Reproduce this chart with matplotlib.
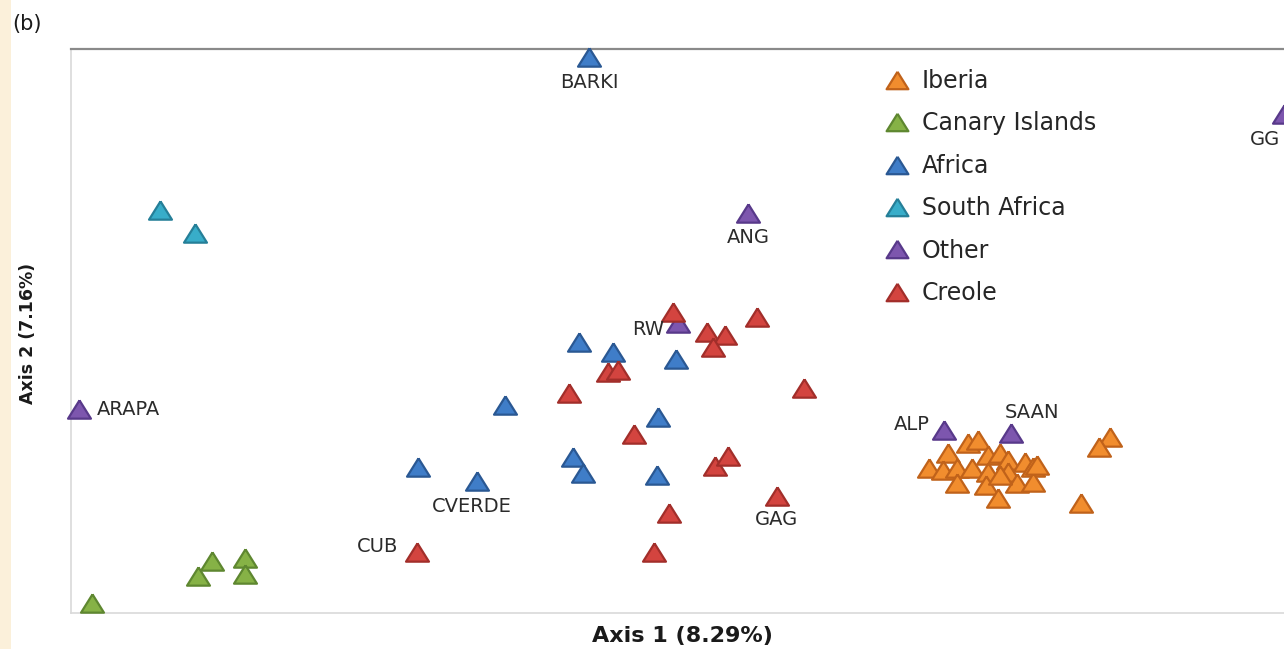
import matplotlib
matplotlib.use("Agg")
import matplotlib.pyplot as plt
from matplotlib.patches import Rectangle

# PCoA coordinates (Axis 1, Axis 2), plotted on a 0-100 scale
iberia_x = [70.73, 72.30, 71.89, 73.04, 73.04, 74.28, 73.95, 74.77, 75.60, 75.60,
            75.43, 76.42, 76.59, 77.25, 77.25, 77.99, 78.65, 79.31, 79.31, 79.64,
            85.66, 84.75, 83.26, 76.59]
iberia_y = [25.71, 28.37, 25.35, 25.71, 23.05, 25.71, 30.14, 30.67, 28.01, 25.00,
            22.70, 20.39, 28.37, 27.13, 25.00, 23.05, 26.77, 25.89, 23.23, 26.24,
            31.21, 29.43, 19.50, 24.47]

canary_x = [1.73, 11.62, 10.47, 14.34, 14.34]
canary_y = [1.77, 9.22, 6.56, 9.75, 6.91]

africa_names = ["BARKI", "", "", "", "", "", "", "CVERDE", "", "", ""]
africa_x = [42.70, 41.88, 44.68, 49.88, 35.78, 48.39, 28.61, 33.47, 41.38, 42.21, 48.31]
africa_y = [98.58, 48.05, 46.28, 45.04, 36.88, 34.75, 25.89, 23.40, 27.66, 24.82, 24.47]

safrica_x = [7.34, 10.22]
safrica_y = [71.45, 67.38]

other_names = ["ARAPA", "ANG", "RW", "ALP", "SAAN", "GG"]
other_x = [0.66, 55.81, 50.04, 71.97, 77.49, 100.0]
other_y = [36.17, 70.92, 51.42, 32.45, 31.91, 88.50]

creole_names = ["", "", "", "", "", "", "", "", "", "", "", "", "GAG", "", "", "CUB"]
creole_x = [49.63, 52.43, 53.92, 52.93, 56.55, 44.27, 45.09, 41.06, 60.43, 46.41,
            53.09, 54.16, 58.20, 49.30, 48.06, 28.52]
creole_y = [53.37, 49.82, 49.29, 47.16, 52.48, 42.73, 43.09, 39.01, 39.89, 31.74,
            26.06, 27.84, 20.74, 17.73, 10.82, 10.82]

groups = ["Iberia", "Canary Islands", "Africa", "South Africa", "Other", "Creole"]
fills = ["#F18D2E", "#86B246", "#3F7DC8", "#38ADC9", "#7D56AE", "#D3443F"]
edges = ["#C0621A", "#5E8730", "#2A5893", "#257F98", "#58398A", "#A22E2A"]

# label placement: (dx, dy) in points, horizontal alignment
label_style = {
    "BARKI": (0, -18, "center"),
    "ANG": (0, -17.3, "center"),
    "RW": (-10, -5, "right"),
    "ARAPA": (13, -0.7, "left"),
    "ALP": (-10, 4.3, "right"),
    "SAAN": (15, 15, "center"),
    "CVERDE": (-3.6, -18.7, "center"),
    "CUB": (-13.7, 4.3, "right"),
    "GAG": (0, -16.6, "center"),
    "GG": (-13.7, -18.7, "center"),
}

tri = [(0, 0.8), (-1, -0.8), (1, -0.8), (0, 0.8)]

fig = plt.figure(figsize=(12.84, 6.49), dpi=100)
fig.patches.append(Rectangle((0, 0), 11 / 1284, 1, transform=fig.transFigure,
                             facecolor="#FBF0DA", edgecolor="none", zorder=0))

ax = fig.add_axes([71 / 1284, 1 - 613 / 649, 1 - 71 / 1284, (613 - 49) / 649])
ax.set_xlim(0, 100)
ax.set_ylim(0, 100)
ax.set_xticks([])
ax.set_yticks([])
ax.spines["right"].set_visible(False)
ax.spines["top"].set_color("#8A8A8A")
ax.spines["top"].set_linewidth(1.6)
for s in ("left", "bottom"):
    ax.spines[s].set_color("#D9D9D9")
    ax.spines[s].set_linewidth(1.2)

series = [
    (iberia_x, iberia_y, None),
    (canary_x, canary_y, None),
    (africa_x, africa_y, africa_names),
    (safrica_x, safrica_y, None),
    (other_x, other_y, other_names),
    (creole_x, creole_y, creole_names),
]

for i, (xs, ys, names) in enumerate(series):
    ax.plot(xs, ys, linestyle="none", marker=tri, markersize=16.5,
            markerfacecolor=fills[i], markeredgecolor=edges[i], markeredgewidth=1.6,
            label=groups[i], clip_on=False, zorder=3 + i)
    if names:
        for x, y, n in zip(xs, ys, names):
            if n:
                dx, dy, ha = label_style[n]
                ax.annotate(n, (x, y), xytext=(dx, dy), textcoords="offset points",
                            ha=ha, va="center", fontsize=14, color="#2B2B2B",
                            family="DejaVu Sans", zorder=10, annotation_clip=False)

leg = ax.legend(loc="upper left", bbox_to_anchor=(886.5 / 1284, 1 - 69 / 649),
                bbox_transform=fig.transFigure, frameon=False, numpoints=1,
                fontsize=17, handlelength=0.9, handletextpad=0.6, labelspacing=0.78,
                borderpad=0, borderaxespad=0, markerscale=0.95)
for t in leg.get_texts():
    t.set_color("#262626")

fig.text(682 / 1284, 1 - 636 / 649, "Axis 1 (8.29%)", ha="center", va="center",
         fontsize=16, fontweight="bold", color="#1A1A1A")
fig.text(28 / 1284, 1 - 333 / 649, "Axis 2 (7.16%)", ha="center", va="center",
         rotation=90, fontsize=12.5, fontweight="bold", color="#1A1A1A")
fig.text(12 / 1284, 1 - 24 / 649, "(b)", ha="left", va="center", fontsize=15,
         color="#1A1A1A")

fig.savefig("out.png", dpi=100)
